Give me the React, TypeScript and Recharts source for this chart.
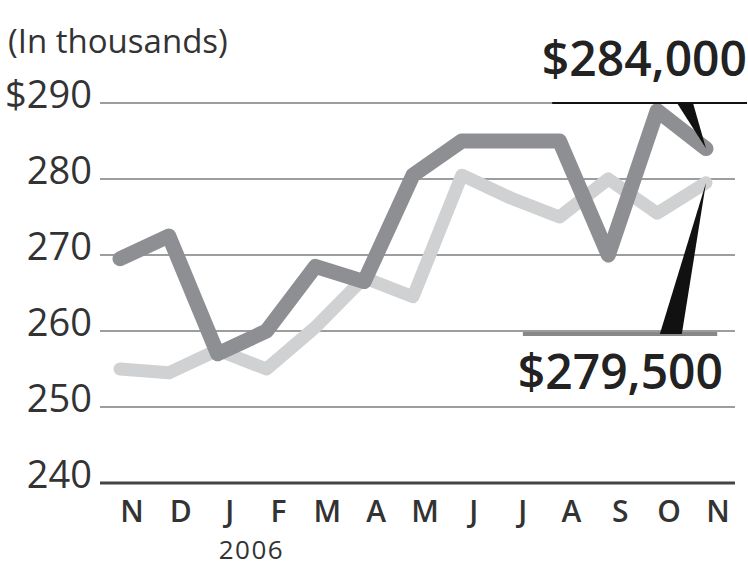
import React from 'react'
import { LineChart, Line, XAxis, YAxis, CartesianGrid, ReferenceLine } from 'recharts'

// Nov 2005 - Nov 2006
const months = ['N', 'D', 'J', 'F', 'M', 'A', 'M', 'J', 'J', 'A', 'S', 'O', 'N']
const darkValues = [269.5, 272.5, 257, 260, 268.5, 266.5, 280.5, 285, 285, 285, 270, 289, 284]
const lightValues = [255, 254.5, 257.5, 255, 260.5, 267, 264.5, 280.5, 277.5, 275, 280, 275.5, 279.5]
const yTicks = [240, 250, 260, 270, 280, 290]
const yearLabel = '2006'
const topCallout = '$284,000'
const bottomCallout = '$279,500'

const chartData = months.map((m, i) => ({
  idx: i,
  month: m,
  dark: darkValues[i],
  light: lightValues[i],
}))
const xTicks = chartData.map((d) => d.idx)

const FONT = '"Open Sans", sans-serif'

const YTick = ({ x, y, payload }: any) => (
  <text x={x} y={y} dy={5} textAnchor="end" fill="#333" fontSize={38} fontFamily={FONT}>
    {payload.value === 290 ? '$290' : payload.value}
  </text>
)

const XTick = ({ x, y, payload }: any) => (
  <g>
    <text x={x + 12} y={y} dy={39} textAnchor="middle" fill="#333" fontSize={30} fontWeight={600} fontFamily={FONT}>
      {months[payload.value]}
    </text>
    {payload.value === 2 && (
      <text x={x + 1} y={y} dy={76} textAnchor="start" fill="#333" fontSize={26} fontFamily={FONT} letterSpacing={1.5}>
        {yearLabel}
      </text>
    )}
  </g>
)

// little black wedge pointing from the callout rule to the end point
const wedge = (halfWidth: number) => (props: any) => {
  const { x1, y1, x2, y2 } = props
  return (
    <polygon
      points={`${x1 - halfWidth},${y1} ${x1 + halfWidth},${y1} ${x2},${y2}`}
      fill="#111"
    />
  )
}

export default function App() {
  return (
    <div style={{ position: 'absolute', left: 0, top: 0, width: 748, height: 567, background: '#fff', fontFamily: FONT }}>
      <div style={{ position: 'absolute', left: 8, top: 24, fontSize: 33, lineHeight: 1, color: '#333' }}>
        (In thousands)
      </div>
      <LineChart width={748} height={567} data={chartData} margin={{ top: 103, right: 13, bottom: 0, left: 0 }}>
        <CartesianGrid horizontal vertical={false} stroke="#9d9d9d" strokeWidth={2} />
        <XAxis
          type="number"
          dataKey="idx"
          domain={[0, 12]}
          ticks={xTicks}
          interval={0}
          padding={{ left: 20, right: 29 }}
          height={84}
          tickSize={0}
          tickMargin={0}
          tickLine={false}
          axisLine={{ stroke: '#444', strokeWidth: 3 }}
          tick={(p: any) => <XTick {...p} />}
        />
        <YAxis
          domain={[240, 290]}
          ticks={yTicks}
          width={100}
          tickSize={0}
          tickMargin={8}
          tickLine={false}
          axisLine={false}
          tick={(p: any) => <YTick {...p} />}
        />
        <Line
          type="linear"
          dataKey="light"
          stroke="#d0d1d3"
          strokeWidth={13}
          strokeLinecap="round"
          strokeLinejoin="round"
          dot={false}
          isAnimationActive={false}
        />
        <Line
          type="linear"
          dataKey="dark"
          stroke="#8e8f92"
          strokeWidth={15}
          strokeLinecap="round"
          strokeLinejoin="round"
          dot={false}
          isAnimationActive={false}
        />
        <ReferenceLine
          segment={[{ x: 8.85, y: 290 }, { x: 12.84, y: 290 }]}
          stroke="#111"
          strokeWidth={2}
          ifOverflow="visible"
        />
        <ReferenceLine
          segment={[{ x: 11.57, y: 290 }, { x: 12, y: darkValues[12] }]}
          ifOverflow="visible"
          shape={wedge(8)}
        />
        <ReferenceLine
          segment={[{ x: 8.25, y: 259.6 }, { x: 12.23, y: 259.6 }]}
          stroke="#888"
          strokeWidth={4}
          ifOverflow="visible"
        />
        <ReferenceLine
          segment={[{ x: 11.28, y: 259.6 }, { x: 12, y: lightValues[12] }]}
          ifOverflow="visible"
          shape={wedge(11)}
        />
      </LineChart>
      <div style={{ position: 'absolute', right: 1, top: 34, fontSize: 48, fontWeight: 600, lineHeight: 1, color: '#222' }}>
        {topCallout}
      </div>
      <div style={{ position: 'absolute', right: 25, top: 347, fontSize: 48, fontWeight: 600, lineHeight: 1, color: '#222' }}>
        {bottomCallout}
      </div>
    </div>
  )
}
